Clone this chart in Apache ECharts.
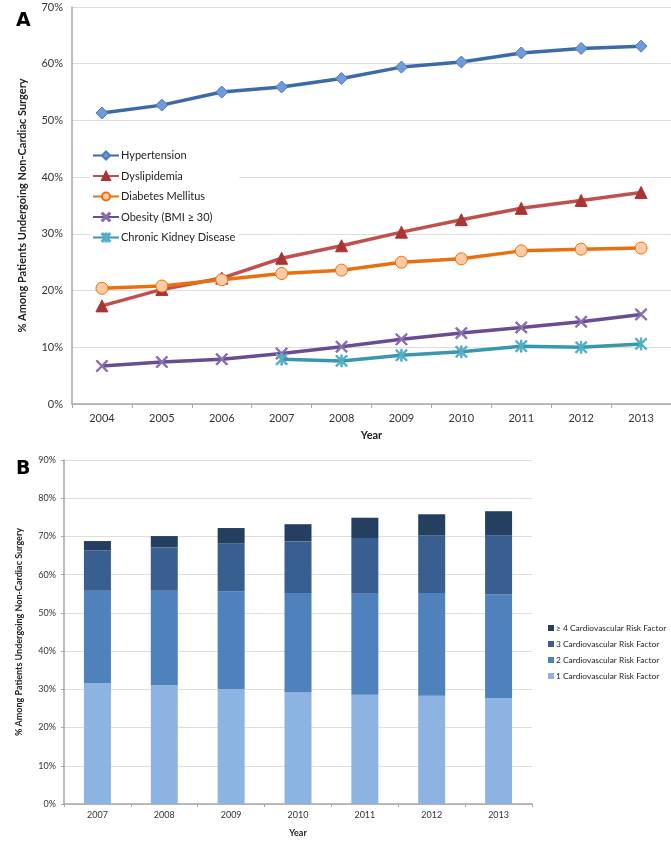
<!DOCTYPE html>
<html><head><meta charset="utf-8">
<script src="https://cdn.jsdelivr.net/npm/echarts@6/dist/echarts.min.js"></script>
<style>html,body{margin:0;padding:0;background:#fff}#c{width:671px;height:844px}</style>
</head><body><div id="c"></div>
<script>
// Panel A data
const yearsA = ['2004','2005','2006','2007','2008','2009','2010','2011','2012','2013'];
const hypertension = [51.3, 52.7, 55.0, 55.9, 57.4, 59.4, 60.3, 61.9, 62.7, 63.1];
const dyslipidemia = [17.3, 20.2, 22.2, 25.7, 27.9, 30.3, 32.5, 34.5, 35.9, 37.3];
const diabetes = [20.4, 20.8, 21.9, 23.0, 23.6, 25.0, 25.6, 27.0, 27.3, 27.5];
const obesity = [6.7, 7.4, 7.9, 8.9, 10.1, 11.4, 12.5, 13.5, 14.5, 15.8];
const ckd = [null, null, null, 7.9, 7.6, 8.6, 9.2, 10.2, 10.0, 10.6];
const namesA = ['Hypertension','Dyslipidemia','Diabetes Mellitus','Obesity (BMI ≥ 30)','Chronic Kidney Disease'];
const ticksA = [0,10,20,30,40,50,60,70];

// Panel B data
const yearsB = ['2007','2008','2009','2010','2011','2012','2013'];
const rf1 = [31.6, 31.1, 30.1, 29.2, 28.6, 28.3, 27.7];
const rf2 = [24.2, 24.7, 25.5, 26.0, 26.4, 26.9, 27.1];
const rf3 = [10.6, 11.4, 12.6, 13.5, 14.6, 15.0, 15.5];
const rf4 = [2.4, 2.9, 4.0, 4.5, 5.3, 5.6, 6.3];
const namesB = ['≥ 4 Cardiovascular Risk Factor','3 Cardiovascular Risk Factor','2 Cardiovascular Risk Factor','1 Cardiovascular Risk Factor'];
const ticksB = [0,10,20,30,40,50,60,70,80,90];

const FONT = 'Lato, "Open Sans", sans-serif';
const xSym = 'path://M1,0 L5,4 L9,0 L10,1 L6,5 L10,9 L9,10 L5,6 L1,10 L0,9 L4,5 L0,1 Z';
const starSym = 'path://M1,0 L5,4 L9,0 L10,1 L6,5 L10,9 L9,10 L5,6 L1,10 L0,9 L4,5 L0,1 Z M4.4,0 L5.6,0 L5.6,10 L4.4,10 Z';

const chart = echarts.init(document.getElementById('c'), null, {renderer:'canvas'});
const axisLineStyle = {color:'#A6A6A6', width:1.5};
const grid = '#DDDDDD';

function lineSeries(name, data, color, symbol, size, mFill, mBorder) {
  return {
    name, type:'line', xAxisIndex:0, yAxisIndex:0, data,
    symbol, symbolSize:size,
    lineStyle:{color, width:3.5},
    itemStyle:{color:mFill, borderColor:mBorder, borderWidth:1},
    emphasis:{disabled:true},
    z: 3
  };
}

const option = {
  animation:false,
  textStyle:{fontFamily:FONT},
  title:[
    {text:'A', left:16, top:12, padding:0, textStyle:{fontSize:19, fontWeight:900, fontFamily:'"DejaVu Sans", sans-serif', color:'#000'}},
    {text:'B', left:16, top:460, padding:0, textStyle:{fontSize:19, fontWeight:900, fontFamily:'"DejaVu Sans", sans-serif', color:'#000'}}
  ],
  legend:[
    {
      data:namesA, orient:'vertical', left:90, top:148, itemGap:9.5,
      itemWidth:26, itemHeight:10, backgroundColor:'#fff', padding:[2,4,2,2],
      textStyle:{fontFamily:FONT, fontSize:11, color:'#222', padding:[0,0,0,-3]}
    },
    {
      data:namesB, orient:'vertical', left:543, top:619, itemGap:8,
      itemWidth:6, itemHeight:6, icon:'rect',
      textStyle:{fontFamily:FONT, fontSize:8.4, color:'#222', padding:[0,0,0,-3]}
    }
  ],
  grid:[
    {left:72, top:7, right:0, bottom:440, containLabel:false},
    {left:64, top:460, right:139, bottom:40, containLabel:false}
  ],
  xAxis:[
    {gridIndex:0, type:'category', data:yearsA, boundaryGap:true,
     axisLine:{lineStyle:axisLineStyle}, axisTick:{show:true, length:4, lineStyle:{color:'#A6A6A6'}},
     axisLabel:{fontFamily:FONT, fontSize:11, color:'#333', margin:9},
     name:'Year', nameLocation:'middle', nameGap:26,
     nameTextStyle:{fontFamily:FONT, fontSize:11, fontWeight:'bold', color:'#222'}},
    {gridIndex:1, type:'category', data:yearsB, boundaryGap:true,
     axisLine:{lineStyle:axisLineStyle}, axisTick:{show:true, length:3, lineStyle:{color:'#A6A6A6'}},
     axisLabel:{fontFamily:FONT, fontSize:9, color:'#333', margin:7},
     name:'Year', nameLocation:'middle', nameGap:25,
     nameTextStyle:{fontFamily:FONT, fontSize:9, fontWeight:'bold', color:'#222'}}
  ],
  yAxis:[
    {gridIndex:0, type:'value', min:ticksA[0], max:ticksA[ticksA.length-1], interval:10,
     axisLine:{show:true, lineStyle:axisLineStyle}, axisTick:{show:false},
     splitLine:{lineStyle:{color:grid, width:1}},
     axisLabel:{fontFamily:FONT, fontSize:11, color:'#333', margin:9, formatter:v=>v+'%'},
     name:'% Among Patients Undergoing Non-Cardiac Surgery', nameLocation:'middle', nameGap:44, nameRotate:90,
     nameTextStyle:{fontFamily:FONT, fontSize:11, fontWeight:'bold', color:'#222'}},
    {gridIndex:1, type:'value', min:ticksB[0], max:ticksB[ticksB.length-1], interval:10,
     axisLine:{show:true, lineStyle:axisLineStyle}, axisTick:{show:true, length:3, lineStyle:{color:'#A6A6A6'}},
     splitLine:{lineStyle:{color:grid, width:1}},
     axisLabel:{fontFamily:FONT, fontSize:9, color:'#333', margin:8, formatter:v=>v+'%'},
     name:'% Among Patients Undergoing Non-Cardiac Surgery', nameLocation:'middle', nameGap:40, nameRotate:90,
     nameTextStyle:{fontFamily:FONT, fontSize:9, fontWeight:'bold', color:'#222'}}
  ],
  series:[
    lineSeries(namesA[0], hypertension, '#3C69A8', 'diamond', 12, '#6F9BDA', '#4A78B8'),
    lineSeries(namesA[1], dyslipidemia, '#C0504D', 'triangle', 12, '#A93434', '#A93434'),
    lineSeries(namesA[2], diabetes, '#E8700E', 'circle', 12, '#FBCBA6', '#E8700E'),
    lineSeries(namesA[3], obesity, '#6A4C92', xSym, 12, '#8A6EB0', '#8A6EB0'),
    lineSeries(namesA[4], ckd, '#3797AE', starSym, 12, '#55AEC4', '#55AEC4'),
    {name:namesB[3], type:'bar', xAxisIndex:1, yAxisIndex:1, stack:'b', data:rf1, barWidth:27, itemStyle:{color:'#8DB3E2'}},
    {name:namesB[2], type:'bar', xAxisIndex:1, yAxisIndex:1, stack:'b', data:rf2, barWidth:27, itemStyle:{color:'#4F81BD'}},
    {name:namesB[1], type:'bar', xAxisIndex:1, yAxisIndex:1, stack:'b', data:rf3, barWidth:27, itemStyle:{color:'#385F8F'}},
    {name:namesB[0], type:'bar', xAxisIndex:1, yAxisIndex:1, stack:'b', data:rf4, barWidth:27, itemStyle:{color:'#243F60'}}
  ]
};
chart.setOption(option);
</script></body></html>
